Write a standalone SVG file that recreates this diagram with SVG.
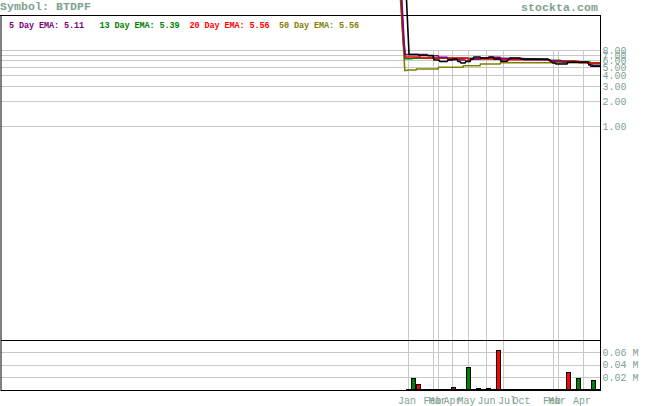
<svg xmlns="http://www.w3.org/2000/svg" width="655" height="406" viewBox="0 0 655 406">
<style>
.grid{stroke:#c8c8c8;stroke-width:1;fill:none}
.frame{stroke:#000;stroke-width:1;fill:none}
.ax{font-family:"Liberation Mono","DejaVu Sans Mono",monospace;font-size:10px;fill:#80a090}
.hd{font-family:"Liberation Mono","DejaVu Sans Mono",monospace;font-size:11.5px;font-weight:bold;fill:#80a090}
.lg{font-family:"Liberation Mono","DejaVu Sans Mono",monospace;font-size:8.5px;font-weight:bold}
.ln{fill:none;stroke-width:1.6;stroke-linejoin:miter}
.vb{stroke:#000;stroke-width:1}
.up{fill:#008000}
.dn{fill:#ff0000}
</style>
<rect width="655" height="406" fill="#fff"/>
<g id="grid">
<path class="grid" d="M1,50.5H600M1,55.5H600M1,60.5H600M1,67.5H600M1,75.5H600M1,86.5H600M1,101.5H600M1,126.5H600"/>
<path class="grid" d="M1,352.5H600M1,365.5H600M1,377.5H600"/>
<path class="grid" d="M408.5,50V390M433.5,50V390M438.5,50V390M452.5,50V390M468.5,50V390M486.5,50V390M503.5,50V390M553.5,50V390M558.5,50V390M583.5,50V390"/>
</g>
<g id="frame">
<path class="frame" d="M0,15.5H601M1,15V391M600.5,15V391M1,340.5H601M1,390.5H601"/>
</g>
<g id="title">
<text class="hd" x="0" y="10" textLength="91">Symbol: BTDPF</text>
<text class="hd" x="521" y="10.5" textLength="77">stockta.com</text>
</g>
<g id="legend">
<text class="lg" x="9" y="27.5" fill="#800080" textLength="75">5 Day EMA: 5.11</text>
<text class="lg" x="99.5" y="27.5" fill="#008000" textLength="80">13 Day EMA: 5.39</text>
<text class="lg" x="189.5" y="27.5" fill="#ff0000" textLength="80">20 Day EMA: 5.56</text>
<text class="lg" x="279" y="27.5" fill="#808000" textLength="80">50 Day EMA: 5.56</text>
</g>
<g id="price-axis">
<text class="ax" x="602.5" y="54">8.00</text>
<text class="ax" x="602.5" y="59">7.00</text>
<text class="ax" x="602.5" y="64">6.00</text>
<text class="ax" x="602.5" y="71">5.00</text>
<text class="ax" x="602.5" y="79">4.00</text>
<text class="ax" x="602.5" y="90">3.00</text>
<text class="ax" x="602.5" y="105">2.00</text>
<text class="ax" x="602.5" y="130">1.00</text>
</g>
<g id="volume-axis">
<text class="ax" x="602.5" y="355.5">0.06 M</text>
<text class="ax" x="602.5" y="368">0.04 M</text>
<text class="ax" x="602.5" y="380.5">0.02 M</text>
</g>
<g id="x-axis">
<text class="ax" x="398" y="404">Jan</text>
<text class="ax" x="423.5" y="404">Feb</text>
<text class="ax" x="428.5" y="404">Mar</text>
<text class="ax" x="443.5" y="404">Apr</text>
<text class="ax" x="457.5" y="404">May</text>
<text class="ax" x="477.5" y="404">Jun</text>
<text class="ax" x="498" y="404">Jul</text>
<text class="ax" x="512.5" y="404">Oct</text>
<text class="ax" x="543" y="404">Feb</text>
<text class="ax" x="548" y="404">Mar</text>
<text class="ax" x="573" y="404">Apr</text>
</g>
<g id="volume">
<path class="vb" d="M406,389.5H600"/>
<rect class="vb up" x="411.5" y="378.5" width="4" height="11"/>
<rect class="vb dn" x="416.5" y="384.5" width="4" height="5"/>
<rect class="vb dn" x="451.5" y="387.5" width="4" height="2"/>
<rect class="vb up" x="466.5" y="367.5" width="4" height="22"/>
<rect class="vb dn" x="476.5" y="388.5" width="4" height="1"/>
<rect class="vb dn" x="486.5" y="388.5" width="4" height="1"/>
<rect class="vb dn" x="496.5" y="350.5" width="4" height="39"/>
<rect class="vb dn" x="566.5" y="372.5" width="4" height="17"/>
<rect class="vb up" x="576.5" y="378.5" width="4" height="11"/>
<rect class="vb up" x="591.5" y="380.5" width="4" height="9"/>
</g>
<g id="connectors">
<path class="ln" stroke="#808000" d="M400.5,0L403,40L404.8,70.5L407,70.5L407.5,70L416,70L416.5,69L438,69L438.5,67.3L463,67.3L463.5,65.7L480,65.7L480.5,64L500,64L500.5,62.7L600,62.7"/>
<path class="ln" stroke="#008000" d="M401,0L403.3,42L405,58.7L412,58.7L413,58L470,58.3L530,58.8L548,59.5L549,60.3L560,60.3L561,61L575,61L576,62L590,62L591,63.7L600,63.7"/>
<path class="ln" stroke="#ff0000" d="M401.3,0L403.5,40L405.5,57L420,57L421,58L467,58L468,59L500,59L501,59.7L548,59.7L549,60.7L553,60.7L554,61.3L578,61.3L579,62.7L600,62.7"/>
<path class="ln" stroke="#800080" d="M401.8,0L404,40L405,54.5L427,54.5L428,55.7L438,55.7L439,57.3L447,57.3L448,59.7L457,59.7L465,60L466,61L470,61L471,59L480,59L481,58L490,58L491,57.3L500,57.3L501,58.5L523,58.5L524,59.7L550,59.7L551,61L562,61L563,62L588,62L589,64.7L592,64.7L593,65.5L600,65.5"/>
<path class="ln" stroke="#000000" d="M406.5,0L409,53L409,54.5L418,54.5L419,55.5L433,55.5L434,60L439,60L440,61.5L447,61.5L448,60L452,60L453,59L457,59L458,61.5L460,61.5L461,63L465,63L466,61.5L470,61.5L471,59L473,59L474,57L480,57L481,58L488,58L489,57L493,57L494,59L500,59L501,61.3L507,61.3L510,58L520,58L521,59L548,59L553,63L555,63L556,64L567,64L568,62.3L588,62.3L589,64.7L590,64.7L591,66.3L600,66.3"/>
</g>
</svg>
